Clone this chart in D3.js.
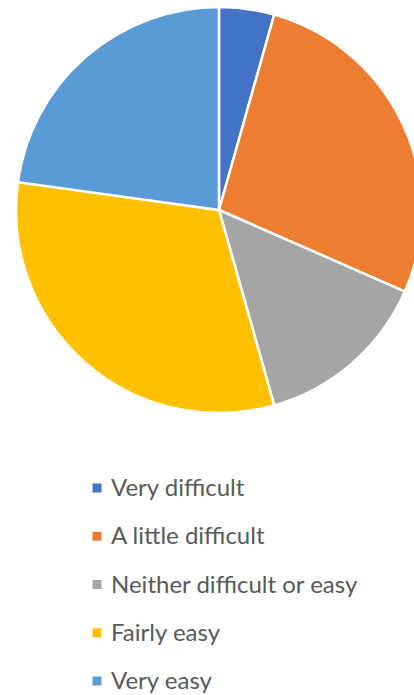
<!DOCTYPE html>
<html><head><meta charset="utf-8">
<script src="https://cdn.jsdelivr.net/npm/d3@7"></script>
<style>html,body{margin:0;padding:0;background:#fff;overflow:hidden}</style>
</head><body>
<svg id="chart" width="414" height="695"></svg>
<script>
const categories = ["Very difficult", "A little difficult", "Neither difficult or easy", "Fairly easy", "Very easy"];
const values = [5, 31, 16, 36, 26];
const colors = ["#4472C4", "#ED7D31", "#A5A5A5", "#FFC000", "#5B9BD5"];

const svg = d3.select("#chart");
const cx = 219, cy = 210, r = 203;
const pie = d3.pie().sort(null).value(d => d.v);
const arc = d3.arc().innerRadius(0).outerRadius(r);
const data = categories.map((c, i) => ({c, v: values[i]}));
const color = d3.scaleOrdinal().domain(categories).range(colors);

svg.append("g").attr("transform", `translate(${cx},${cy})`)
  .selectAll("path").data(pie(data)).join("path")
  .attr("d", arc)
  .attr("fill", d => color(d.data.c))
  .attr("stroke", "#fff").attr("stroke-width", 2.5).attr("stroke-linejoin", "round");

const legend = svg.append("g");
const rowY = d3.scalePoint().domain(categories).range([488, 681]);
const items = legend.selectAll("g").data(categories).join("g")
  .attr("transform", d => `translate(0,${rowY(d)})`);
items.append("rect").attr("x", 92.5).attr("y", -4.5).attr("width", 9).attr("height", 9)
  .attr("fill", d => color(d));
items.append("text").attr("x", 111).attr("y", 8)
  .attr("font-family", "Lato, 'Open Sans', sans-serif").attr("font-size", 24)
  .attr("fill", "#595959").text(d => d);
</script>
</body></html>
